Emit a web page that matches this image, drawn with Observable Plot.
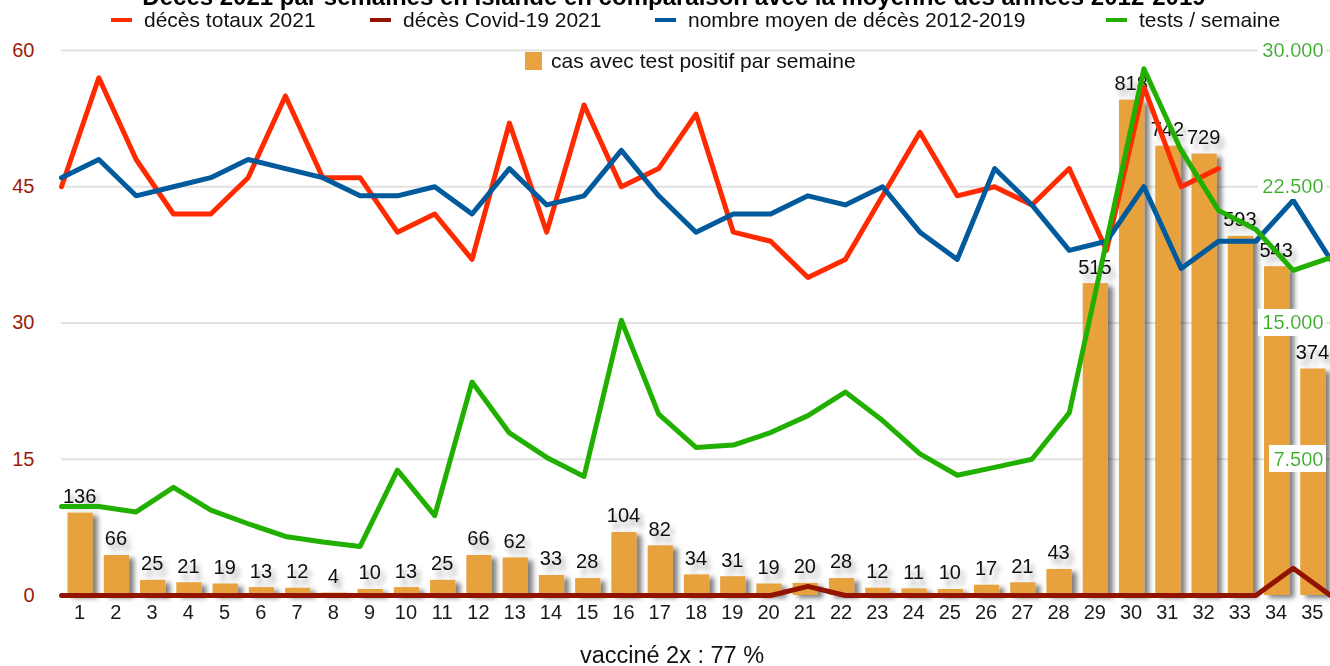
<!DOCTYPE html>
<html><head><meta charset="utf-8">
<script src="https://cdn.jsdelivr.net/npm/d3@7"></script>
<script src="https://cdn.jsdelivr.net/npm/@observablehq/plot@0.6"></script>
<style>
html,body{margin:0;padding:0;background:#fff;}
body{font-family:"Liberation Sans",Arial,sans-serif;color:#000;}
#wrap{position:relative;width:1330px;height:666px;overflow:hidden;background:#fff;}
#wrap svg.layer{position:absolute;left:0;top:0;}
.t{position:absolute;white-space:nowrap;line-height:1;}
#title{font-weight:bold;font-size:24px;left:0;width:1348px;text-align:center;top:-15px;}
.leg{position:absolute;white-space:nowrap;line-height:1;font-size:21px;color:#111;}
.dash{position:absolute;width:21px;height:4px;}
.sq{position:absolute;width:17px;height:18px;}
#caption{font-size:23.5px;left:0;width:1344px;text-align:center;top:644px;color:#111;}
</style></head>
<body>
<svg width="0" height="0" style="position:absolute">
 <defs>
  <filter id="shadow" x="-30%" y="-30%" width="170%" height="170%">
   <feDropShadow dx="5" dy="3" stdDeviation="2.8" flood-color="#000" flood-opacity="0.5"/>
  </filter>
  <filter id="lblshadow" x="-30%" y="-30%" width="170%" height="190%">
   <feDropShadow dx="4" dy="6" stdDeviation="2.6" flood-color="#000" flood-opacity="0.35"/>
  </filter>
  <filter id="whitebg" x="-0.07" y="-0.08" width="1.1" height="1.16">
   <feFlood flood-color="#ffffff"/>
   <feComposite in="SourceGraphic" operator="over"/>
  </filter>
 </defs>
</svg>
<div id="wrap"></div>
<script>
// ---- data ----
const weeks = d3.range(1, 36);
const positiveCases = [136,66,25,21,19,13,12,4,10,13,25,66,62,33,28,104,82,34,31,19,20,28,12,11,10,17,21,43,515,818,742,729,593,543,374];
const deathsTotal2021 = [45,57,48,42,42,46,55,46,46,40,42,37,52,40,54,45,47,53,40,39,35,37,44,51,44,45,43,47,38,56,45,47];
const deathsCovid2021 = [0,0,0,0,0,0,0,0,0,0,0,0,0,0,0,0,0,0,0,0,1,0,0,0,0,0,0,0,0,0,0,0,0,3,0];
const avgDeaths20122019 = [46,48,44,45,46,48,47,46,44,44,45,42,47,43,44,49,44,40,42,42,44,43,45,40,37,47,43,38,39,45,36,39,39,43.5,37];
const testsPerWeek = [4900,4900,4600,5950,4700,3950,3250,2950,2700,6900,4400,11750,8950,7600,6550,15150,9980,8150,8280,8970,9900,11200,9630,7800,6620,7050,7500,10050,19500,29000,24500,21200,20150,17900,18600];
const leftTicks = [0,15,30,45,60];
const rightTicks = [7500,15000,22500,30000];
const casesAxisMax = 900;
const titleText = "Décès 2021 par semaines en Islande en comparaison avec la moyenne des années 2012-2019";
const legendItems = ["décès totaux 2021","décès Covid-19 2021","nombre moyen de décès 2012-2019","tests / semaine"];
const barLegend = "cas avec test positif par semaine";
const captionText = "vacciné 2x : 77 %";

const colors = {total:"#ff2a00", covid:"#921300", avg:"#005a9c", tests:"#22b000", bars:"#e8a23e", left:"#9a1c0c", right:"#33b318"};

// ---- tables ----
const casesTable = weeks.map((w,i)=>({week:w, cases:positiveCases[i]}));
const totalTable = deathsTotal2021.map((v,i)=>({week:weeks[i], v}));
const covidTable = weeks.map((w,i)=>({week:w, v:deathsCovid2021[i]}));
const avgTable = weeks.map((w,i)=>({week:w, v:avgDeaths20122019[i]}));
const testsTable = weeks.map((w,i)=>({week:w, v:testsPerWeek[i]}));

const fmt = d3.formatLocale({decimal:",", thousands:".", grouping:[3], currency:["",""]}).format(",");

const base = {width:1330, height:666, marginLeft:61, marginRight:0, marginTop:50, marginBottom:71,
  style:{background:"transparent", fontFamily:"'Liberation Sans', Arial, sans-serif", fontSize:"20px"}};
const bandX = {type:"band", domain:weeks, padding:0, round:false, axis:null};
const pointX = {type:"point", domain:weeks, padding:0, round:false, axis:null};

const wrap = document.getElementById("wrap");
function add(svg){ svg.classList.add("layer"); wrap.appendChild(svg); return svg; }

// layer 0: grid + left axis
add(Plot.plot({...base,
  x:bandX,
  y:{domain:[0,60], axis:null},
  marks:[
    Plot.ruleY(leftTicks.slice(1), {stroke:"#e2e2e2", strokeWidth:2}),
    Plot.axisY({ticks:leftTicks, anchor:"left", tickSize:0, tickPadding:27, color:colors.left, fontSize:20, label:null})
  ]}));

// layer 1: bars, labels, x axis
const l1 = add(Plot.plot({...base,
  x:bandX,
  y:{domain:[0,casesAxisMax], axis:null},
  marks:[
    Plot.barY(casesTable, {x:"week", y:"cases", fill:colors.bars, insetLeft:6.5, insetRight:4.5}),
    Plot.text(casesTable, {x:"week", y:"cases", text:d=>String(d.cases), dy:-16.5, fontSize:20, fill:"#111"}),
    Plot.axisX({anchor:"bottom", tickSize:0, tickPadding:9, fontSize:20, color:"#1a1a1a", label:null})
  ]}));
d3.select(l1).select('g[aria-label="bar"]').style("filter","url(#shadow)");
d3.select(l1).select('g[aria-label="text"]').style("filter","url(#lblshadow)");

// layer 2: death lines
add(Plot.plot({...base,
  x:pointX,
  y:{domain:[0,60], axis:null},
  marks:[
    Plot.line(covidTable, {x:"week", y:"v", stroke:colors.covid, strokeWidth:5}),
    Plot.line(totalTable, {x:"week", y:"v", stroke:colors.total, strokeWidth:5}),
    Plot.line(avgTable, {x:"week", y:"v", stroke:colors.avg, strokeWidth:5})
  ]}));

// layer 3: tests line + right axis
const l3 = add(Plot.plot({...base,
  x:pointX,
  y:{domain:[0,30000], axis:null},
  marks:[
    Plot.line(testsTable, {x:"week", y:"v", stroke:colors.tests, strokeWidth:5}),
    Plot.axisY({ticks:rightTicks, anchor:"right", tickSize:0, tickPadding:-7, textAnchor:"end", tickFormat:fmt, color:colors.right, fontSize:20, label:null})
  ]}));
d3.select(l3).selectAll("text").style("filter","url(#whitebg)");

// title, legend, caption
function div(cls, id, txt, css){ const e=document.createElement("div"); if(cls) e.className=cls; if(id) e.id=id; e.textContent=txt||""; Object.assign(e.style, css||{}); wrap.appendChild(e); return e; }
div("t","title",titleText);
const legColors=[colors.total, colors.covid, colors.avg, colors.tests];
const legX=[111,370,655,1106];
legendItems.forEach((t,i)=>{
  div("dash",null,"",{left:legX[i]+"px", top:"18px", background:legColors[i]});
  div("leg",null,t,{left:(legX[i]+33)+"px", top:"9px"});
});
div("sq",null,"",{left:"525px", top:"52px", background:colors.bars});
div("leg",null,barLegend,{left:"551px", top:"50px"});
div("t","caption",captionText);
</script>
</body></html>
